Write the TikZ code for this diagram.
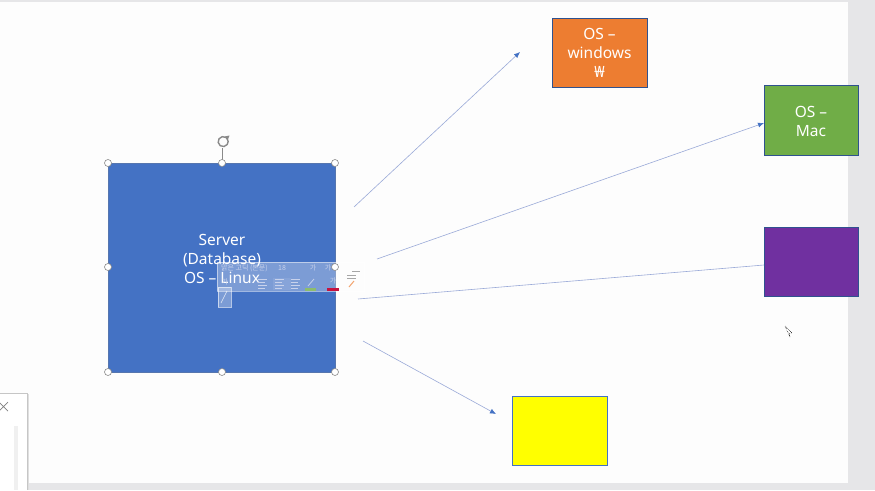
\documentclass[tikz,border=0pt]{standalone}
\usepackage{fontspec}
\setmainfont{Noto Sans}
\newfontfamily\krfont{Noto Sans CJK KR}
\usetikzlibrary{arrows.meta}
\definecolor{slidebg}{HTML}{FDFDFD}
\definecolor{appgray}{HTML}{E6E6E8}
\definecolor{srvblue}{HTML}{4472C4}
\definecolor{oborder}{HTML}{2F528F}
\definecolor{orangef}{HTML}{ED7D31}
\definecolor{greenf}{HTML}{70AD47}
\definecolor{purplef}{HTML}{7030A0}
\definecolor{yellowf}{HTML}{FFFF00}
\definecolor{linecol}{HTML}{9AAAD8}
\definecolor{tipcol}{HTML}{4472C4}
\definecolor{handlecol}{HTML}{8A8A8A}
\definecolor{tbtext}{HTML}{C8D2EC}
\tikzset{
  box/.style={draw=oborder, line width=0.9pt, inner sep=0pt, anchor=north west},
  boxtext/.style={text=white, align=center, font=\fontsize{15.5}{19}\selectfont},
  handle/.style={circle, draw=handlecol, fill=white, line width=0.6pt, minimum size=7pt, inner sep=0pt},
  conn/.style={draw=linecol, line width=0.6pt, -{Latex[length=6pt,width=5pt,color=tipcol]}},
  connplain/.style={draw=linecol, line width=0.6pt},
  tbitem/.style={font=\krfont\fontsize{7}{7}\selectfont, text=tbtext, inner sep=0pt},
}
\begin{document}
\begin{tikzpicture}[x=1pt,y=-1pt]
\useasboundingbox (0,0) rectangle (875,490);
% background
\fill[appgray] (0,0) rectangle (875,490);
\fill[slidebg] (0,2) rectangle (848,483);
% server box
\node[box, draw=srvblue!70!gray, line width=0.5pt, fill=srvblue, minimum width=227pt, minimum height=209pt] (srv) at (108,163) {};
\node[boxtext] (srvtxt) at (222,259) {Server\\(Database)\\OS -- Linux};
% mini toolbar overlay
\fill[white, opacity=0.3] (217,262) rectangle (364,291);
\draw[white, opacity=0.5, line width=0.4pt] (217,262) rectangle (364,291);
\node[tbitem, anchor=west] (tbfont) at (221,268) {맑은 고딕 (본문)};
\node[tbitem, anchor=west] (tbsize) at (278,268) {18};
\node[tbitem] (tbgrow) at (313,268) {가};
\node[tbitem] (tbshrink) at (328,268) {가};
\node[tbitem] (tbbold) at (225,282) {가};
\fill[tipcol!60!white, opacity=0.6] (273,278) rectangle (291,290);
\foreach \lx in {258,275,291}{
  \draw[tbtext, line width=0.6pt] (\lx,279) -- ++(9,0) (\lx,282) -- ++(7,0) (\lx,285) -- ++(9,0) (\lx,288) -- ++(7,0);
}
\fill[greenf!80!white] (305,288) rectangle (316,290.5);
\draw[tbtext, line width=0.8pt] (308,286) -- (314,279);
\node[tbitem] (tbcolor) at (333,281) {가};
\fill[purplef!40!red] (327,288) rectangle (339,290.5);
\draw[orangef!70!white, line width=1pt] (349,287) -- (354,281);
\draw[gray!70, line width=0.6pt] (347,275) -- ++(9,0) (347,278) -- ++(9,0) (352,271) -- ++(8,0);
\fill[white, opacity=0.3] (218,287) rectangle (231,307);
\draw[white, opacity=0.6, line width=0.4pt] (218,287) rectangle (231,307);
\draw[white, opacity=0.8, line width=0.6pt] (221,303) -- (227,291);
% handles
\draw[handlecol, line width=0.6pt] (222,148) -- (222,163);
\draw[handlecol, line width=1.4pt] (226,137.5) arc (55:395:5pt);
\fill[handlecol] (227.5,140.5) -- (229.5,135.5) -- (224.5,136.5) -- cycle;
\foreach \hx/\hy [count=\i] in {108/163,222/163,335/163,108/267,335/267,108/372,222/372,335/372}
  \node[handle] (h\i) at (\hx,\hy) {};
% other boxes
\node[box, fill=orangef, minimum width=95pt, minimum height=69pt] (win) at (552,18) {};
\node[boxtext] (wintxt) at (599.5,53) {OS --\\windows\\₩};
\node[box, fill=greenf, minimum width=94pt, minimum height=70pt] (mac) at (764,85) {};
\node[boxtext] (mactxt) at (811,121) {OS --\\Mac};
\node[box, fill=purplef, minimum width=94pt, minimum height=69pt] (pur) at (764,227) {};
\node[box, fill=yellowf, draw=srvblue, minimum width=95pt, minimum height=69pt] (yel) at (512,396) {};
% connectors
\coordinate (s1) at (354,207);
\coordinate (e1) at (520,52);
\coordinate (s2) at (377,259);
\coordinate (e2) at (764,123);
\coordinate (s3) at (358,299);
\coordinate (e3) at (764,265);
\coordinate (s4) at (363,341);
\coordinate (e4) at (496,414);
\draw[conn] (s1) -- (e1);
\draw[conn] (s2) -- (e2);
\draw[connplain] (s3) -- (e3);
\draw[conn] (s4) -- (e4);
% task pane fragment
\fill[gray!25] (0,394) rectangle (29,490);
\fill[white] (0,393) rectangle (27,490);
\draw[gray!45, line width=0.5pt] (0,393) -- (27,393) -- (27,490);
\draw[gray, line width=0.7pt] (-1,402) -- (8,411) (8,402) -- (-1,411);
\fill[gray!12] (14,426) rectangle (18,490);
% mouse cursor
\draw[black, line width=0.5pt, densely dotted] (785,326) -- (792,333) -- (789,333.5) -- (790,337) -- cycle;
\end{tikzpicture}
\end{document}
